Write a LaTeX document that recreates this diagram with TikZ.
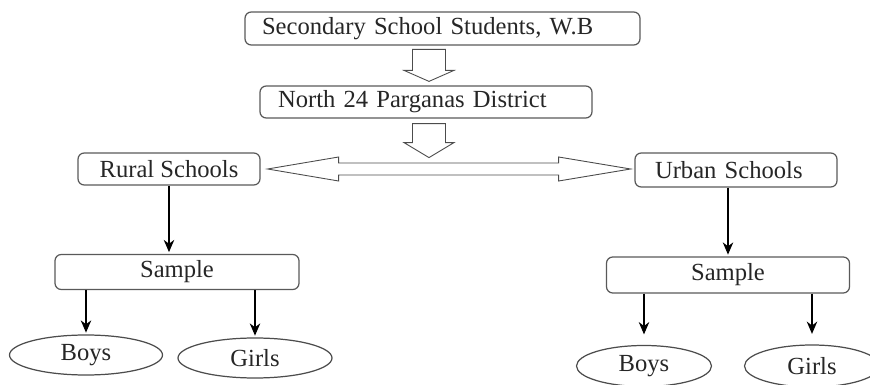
\documentclass[tikz,border=0pt]{standalone}
\usepackage{fontspec}
\setmainfont{Liberation Serif}
\usetikzlibrary{arrows.meta,shapes.geometric,calc}

\begin{document}
\begin{tikzpicture}[x=0.02cm,y=-0.02cm,
    every node/.style={font=\fontsize{14}{16}\selectfont,text=black!85,inner sep=0pt},
    box/.style={draw=black!65,rounded corners=3.5pt,line width=0.7pt},
    leaf/.style={draw=black!70,ellipse,line width=0.7pt},
    link/.style={-{Stealth[length=7pt,width=6pt]},line width=0.6pt,shorten >=1pt},
    blockarrow/.style={draw=black!70,line width=0.5pt,line join=miter}]
 \useasboundingbox (0,0) rectangle (870,385);
 \node[box,minimum height=0.66cm,inner xsep=0.34cm,text width=7.22cm,align=left] (top) at (442.5,28.5) {Secondary School Students, W.B};
 \node[box,minimum height=0.64cm,inner xsep=0.36cm,text width=5.92cm,align=left] (dist) at (426,102) {North 24 Parganas District};
 \node[box,minimum width=3.64cm,minimum height=0.64cm] (rural) at (169,169) {Rural Schools};
 \node[box,minimum height=0.68cm,inner xsep=0.4cm,text width=3.24cm,align=left] (urban) at (736,170) {Urban Schools};
 \node[box,minimum width=4.88cm,minimum height=0.70cm] (sampleL) at (177,272) {Sample};
 \node[box,minimum width=4.86cm,minimum height=0.72cm] (sampleR) at (728,275) {Sample};
 \node[leaf,minimum width=3.06cm,minimum height=0.80cm] (boysL) at (86,355) {Boys};
 \node[leaf,minimum width=3.08cm,minimum height=0.80cm] (girlsL) at (255,358) {Girls};
 \node[leaf,minimum width=2.7cm,minimum height=0.82cm] (boysR) at (644,366) {Boys};
 \node[leaf,minimum width=2.7cm,minimum height=0.84cm] (girlsR) at (812,366) {Girls};

 \draw[blockarrow] ($(dist.north)+(-13.5,-36)$) -- ++(0,21) -- ++(-8.5,0) -- ++(25,11)
    -- ++(25,-11) -- ++(-8.5,0) -- ++(0,-21) -- cycle;
 \draw[blockarrow] ($(dist.south)+(-13.5,5)$) -- ++(0,19) -- ++(-8.5,0) -- ++(25,15)
    -- ++(25,-15) -- ++(-8.5,0) -- ++(0,-19) -- cycle;
 \draw[blockarrow] ($(rural.east)+(7,0)$) -- ++(71,-12) -- ++(0,6) -- ++(220,0) -- ++(0,-6)
    -- ++(72,12) -- ++(-72,12) -- ++(0,-6) -- ++(-220,0) -- ++(0,6) -- cycle;

 \draw[link] (rural.south) -- (rural.south |- sampleL.north);
 \draw[link] (sampleR.north |- urban.south) -- (sampleR.north);
 \draw[link] (sampleL.south -| boysL.north) -- (boysL.north);
 \draw[link] (sampleL.south -| girlsL.north) -- (girlsL.north);
 \draw[link] (sampleR.south -| boysR.north) -- ([yshift=5pt]boysR.north);
 \draw[link] (sampleR.south -| girlsR.north) -- ([yshift=5pt]girlsR.north);
\end{tikzpicture}
\end{document}
